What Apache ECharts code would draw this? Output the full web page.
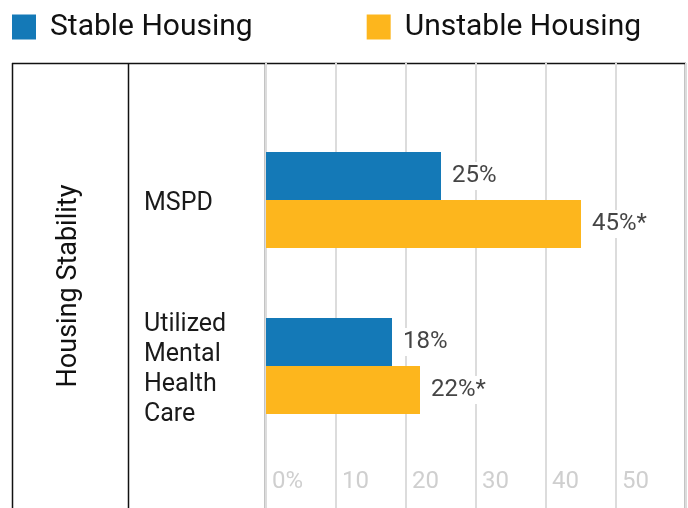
<!DOCTYPE html>
<html>
<head>
<meta charset="utf-8">
<script src="https://cdn.jsdelivr.net/npm/echarts@6/dist/echarts.min.js"></script>
<style>
  html, body { margin: 0; padding: 0; background: #fff; }
  #chart { width: 688px; height: 508px; }
</style>
</head>
<body>
<div id="chart"></div>
<script>
const groupLabel = 'Housing Stability'
const categories = ['MSPD', 'Utilized\nMental\nHealth\nCare']
const stableValues = [25, 18]
const unstableValues = [45, 22]
const stableLabels = ['25%', '18%']
const unstableLabels = ['45%*', '22%*']
const seriesNames = ['Stable Housing', 'Unstable Housing']
const tickFormat = v => (v === 0 ? '0%' : String(v))

const font = 'Roboto, "Noto Sans", sans-serif'
const blue = '#1479b7'
const orange = '#fdb61d'

const chart = echarts.init(document.getElementById('chart'))

const barLabel = (labels) => ({
  show: true,
  position: 'right',
  distance: 9,
  fontFamily: font,
  fontSize: 24,
  color: '#454545',
  backgroundColor: '#fff',
  padding: [4, 2, 0, 2],
  formatter: p => labels[p.dataIndex],
})

const option = {
  animation: false,
  legend: {
    data: seriesNames,
    left: 12,
    top: 12,
    padding: 0,
    icon: 'rect',
    itemWidth: 24,
    itemHeight: 25,
    itemGap: 114,
    textStyle: { fontFamily: font, fontSize: 30, color: '#111', padding: [2, 0, 0, 9] },
  },
  grid: [
    // full height grid for the vertical lines and ticks
    { left: 266, right: 2, top: 63, bottom: 0 },
    // bar grid
    { left: 266, right: 2, top: 117, bottom: 59 },
  ],
  xAxis: [
    {
      gridIndex: 0, type: 'value', min: 0, max: 60, interval: 10,
      axisLine: { show: false }, axisTick: { show: false },
      splitLine: { lineStyle: { color: '#dcdcdc', width: 2 } },
      axisLabel: {
        inside: true, margin: 14, align: 'left', padding: [0, 0, 0, 6],
        showMaxLabel: false,
        fontFamily: font, fontSize: 24, color: '#cfcfcf',
        formatter: tickFormat,
      },
    },
    {
      gridIndex: 1, type: 'value', min: 0, max: 60, show: false,
    },
  ],
  yAxis: [
    { gridIndex: 0, type: 'category', data: [''], show: false },
    {
      gridIndex: 1, type: 'category', data: categories, inverse: true,
      axisLine: { show: false }, axisTick: { show: false },
      axisLabel: {
        margin: 122, align: 'left', verticalAlign: 'middle',
        // small spacer line on top nudges the block down a few px
        formatter: v => '{s|}\n{t|' + v.split('\n').join('}\n{t|') + '}',
        rich: {
          s: { lineHeight: 7, fontSize: 1 },
          t: { lineHeight: 30, fontFamily: font, fontSize: 25, color: '#1a1a1a' },
        },
      },
    },
  ],
  series: [
    {
      name: seriesNames[0], type: 'bar', xAxisIndex: 1, yAxisIndex: 1,
      data: stableValues, barWidth: 48, barGap: '0%',
      itemStyle: { color: blue },
      label: barLabel(stableLabels),
    },
    {
      name: seriesNames[1], type: 'bar', xAxisIndex: 1, yAxisIndex: 1,
      data: unstableValues, barWidth: 48, barGap: '0%',
      itemStyle: { color: orange },
      label: barLabel(unstableLabels),
    },
  ],
  graphic: [
    { type: 'line', shape: { x1: 12, y1: 63.5, x2: 686, y2: 63.5 }, style: { stroke: '#111', lineWidth: 1.5 } },
    { type: 'line', shape: { x1: 12.5, y1: 63, x2: 12.5, y2: 508 }, style: { stroke: '#111', lineWidth: 1.5 } },
    { type: 'line', shape: { x1: 128.5, y1: 63, x2: 128.5, y2: 508 }, style: { stroke: '#111', lineWidth: 1.5 } },
    { type: 'line', shape: { x1: 265.5, y1: 63, x2: 265.5, y2: 508 }, style: { stroke: '#111', lineWidth: 1.5 } },
    { type: 'line', shape: { x1: 685.5, y1: 63, x2: 685.5, y2: 508 }, style: { stroke: '#111', lineWidth: 1.5 } },
    {
      type: 'text', x: 69, y: 286, rotation: Math.PI / 2,
      style: {
        text: groupLabel, fontFamily: font, fontSize: 27, fill: '#111',
        align: 'center', verticalAlign: 'middle',
      },
    },
  ],
}

chart.setOption(option)
</script>
</body>
</html>
